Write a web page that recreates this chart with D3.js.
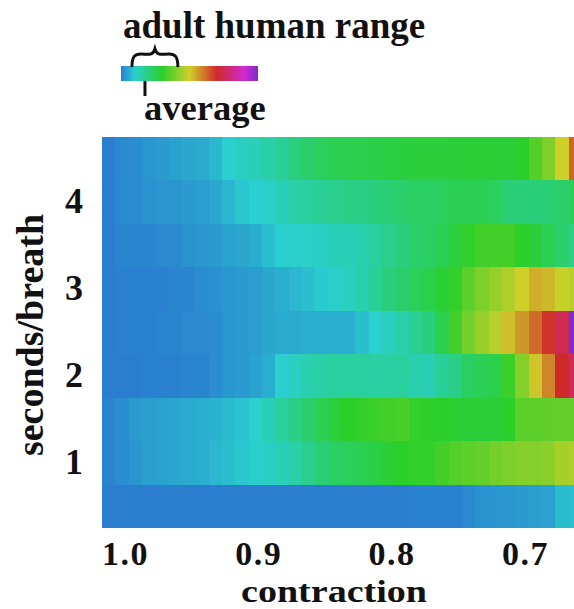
<!DOCTYPE html>
<html>
<head>
<meta charset="utf-8">
<script src="https://cdn.jsdelivr.net/npm/d3@7"></script>
<style>
  html, body { margin: 0; padding: 0; background: #fff; }
  svg { display: block; }
  text { font-family: "Liberation Serif", serif; font-weight: bold; fill: #111; }
</style>
</head>
<body>
<div id="chart"></div>
<script>
// contraction along x, seconds/breath along y
const contraction = [1.00, 0.99, 0.98, 0.97, 0.96, 0.95, 0.94, 0.93, 0.92, 0.91, 0.90, 0.89,
  0.88, 0.87, 0.86, 0.85, 0.84, 0.83, 0.82, 0.81, 0.80, 0.79, 0.78, 0.77,
  0.76, 0.75, 0.74, 0.73, 0.72, 0.71, 0.70, 0.69, 0.68, 0.67, 0.66, 0.65];
const secondsPerBreath = [4.5, 4, 3.5, 3, 2.5, 2, 1.5, 1, 0.5];

const xTickLabels = [1.0, 0.9, 0.8, 0.7];
const yTickLabels = [4, 3, 2, 1];

// colour index, 0 = blue end of the legend, 100 = purple end
const row45 = [0, 1.5, 2, 3, 3.5, 4.5, 5, 5.5, 7, 10, 12, 13, 15, 17, 20, 22, 24, 25, 25.5, 26, 26.5, 27, 27.5, 28, 28, 28, 28.5, 28.5, 28.5, 28.5, 28.5, 30, 35, 40, 50, 63];
const row40 = [0, 1.5, 2, 2.5, 3, 3, 3.5, 4, 5, 7, 9, 10, 11, 13, 15, 16, 17, 18, 19, 19, 20, 21, 22, 23, 23, 24, 25, 25, 25, 24, 21, 20.5, 20.5, 21, 22, 25];
const row35 = [0, 1, 1, 1, 1.5, 1.5, 2.5, 3, 3.5, 4.5, 5, 6, 8, 10, 10.5, 11, 11.5, 13, 13, 14, 16, 18, 20, 22, 23, 25, 28, 31, 33, 33, 33, 30, 28, 25, 22, 19];
const row30 = [0, 0.5, 0.5, 0.5, 0.5, 1, 1, 2, 2.5, 3, 3.5, 4, 5, 6, 7, 8, 9.5, 10.5, 12, 14, 17, 20, 22, 24, 26, 29, 31, 36, 40, 43, 46, 50, 54, 53, 49, 47];
const row25 = [0, 0.5, 0.5, 0.5, 1, 1, 1.5, 1.5, 2, 3, 3.5, 4, 5, 5.5, 5.5, 6, 6, 6, 6, 8, 10, 12, 14, 17, 20, 26, 33, 39, 43, 47, 52, 57, 62, 69, 75, 100];
const row20 = [0, 0, 0, 0.5, 0.5, 0.5, 1, 1, 2, 3, 3.5, 4.5, 6, 10, 12, 14, 15, 16, 16, 16, 15.5, 15.5, 16, 14, 13.5, 17, 19, 23, 25, 26, 32, 41, 51, 59, 70, 77];
const row15 = [1, 2, 3.5, 4, 4.5, 5, 5.5, 6, 6.5, 7.5, 8.5, 10, 13, 16, 19, 22, 25, 28, 30, 31, 32, 33, 33.5, 31, 30.5, 30, 29, 28.5, 28.5, 28.5, 30, 36, 36, 36.5, 37, 37];
const row10 = [1, 2, 3, 4, 4.5, 5, 5.5, 6, 7, 8, 9, 10.5, 11.5, 13, 15, 18, 21, 23, 24, 25, 27, 29, 30, 31, 31, 33, 35, 36, 37, 39, 40, 41, 41, 42, 45, 46];
const row05 = [0, 0, 0, 0, 0, 0, 0, 0, 0, 0, 0, 0, 0, 0, 0, 0, 0, 0, 0, 0, 0, 0, 0, 0.5, 0.5, 0.5, 0.5, 1.5, 2.5, 3, 3, 3.5, 4, 4.5, 7.5, 8];
const rows = [row45, row40, row35, row30, row25, row20, row15, row10, row05];

// legend
const legendStops = [0, 10, 30, 50, 70, 90, 100];
const adultRange = [8, 41.5];
const averageValue = 17.5;

const width = 574, height = 609;
const bandW = 13.33;

const svg = d3.select("#chart").append("svg")
  .attr("width", width)
  .attr("height", height);

const x = d3.scaleBand()
  .domain(contraction)
  .range([102, 102 + bandW * contraction.length]);

const y = d3.scaleBand()
  .domain(secondsPerBreath)
  .range([137, 528]);

// hue runs from 210 (blue) down through green, red and magenta to purple
const hue = d3.scaleLinear().domain([0, 100]).range([210, -90]);
const color = v => d3.hsl(hue(v), 0.66, 0.49).formatHex();

// heatmap
const cells = rows.flatMap((row, i) =>
  row.map((v, j) => ({ s: secondsPerBreath[i], c: contraction[j], v: v })));

svg.append("g")
  .style("filter", "blur(0.5px)")
  .selectAll("rect")
  .data(cells)
  .join("rect")
  .attr("x", d => x(d.c))
  .attr("y", d => y(d.s))
  .attr("width", x.bandwidth())
  .attr("height", y.bandwidth())
  .attr("shape-rendering", "crispEdges")
  .attr("fill", d => color(d.v));

// bottom axis, labels start at the left edge of their column
const xAxis = svg.append("g")
  .attr("transform", "translate(0,528)")
  .call(d3.axisBottom(x).tickValues(xTickLabels).tickSize(0).tickFormat(d3.format(".1f")));
xAxis.select(".domain").remove();
xAxis.selectAll("text")
  .attr("x", -x.bandwidth() / 2)
  .attr("y", 13)
  .attr("text-anchor", "start")
  .style("font-size", "34px")
  .style("letter-spacing", "1.5px")
  .style("font-family", "Liberation Serif");

// left axis
const yAxis = svg.append("g")
  .attr("transform", "translate(102,0)")
  .call(d3.axisLeft(y).tickValues(yTickLabels).tickSize(0));
yAxis.select(".domain").remove();
yAxis.selectAll("text")
  .attr("x", -19)
  .attr("dy", "0.3em")
  .style("font-size", "36px")
  .style("font-family", "Liberation Serif");

// stretched to the reference width, the box has to stay clear of the ticks and the page edge
svg.append("text")
  .attr("x", 241)
  .attr("y", 601.8)
  .attr("textLength", 186)
  .attr("lengthAdjust", "spacingAndGlyphs")
  .style("font-size", "32.5px")
  .text("contraction");

svg.append("text")
  .attr("transform", "translate(43,335) rotate(-90)")
  .attr("text-anchor", "middle")
  .style("font-size", "38px")
  .text("seconds/breath");

// colour legend
const legendX = d3.scaleLinear().domain([0, 100]).range([121, 258]);

const gradient = svg.append("defs").append("linearGradient")
  .attr("id", "legendGradient");
gradient.selectAll("stop")
  .data(legendStops)
  .join("stop")
  .attr("offset", d => d + "%")
  .attr("stop-color", d => color(d));

svg.append("rect")
  .attr("x", legendX(0))
  .attr("y", 66)
  .attr("width", legendX(100) - legendX(0))
  .attr("height", 15)
  .attr("fill", "url(#legendGradient)");

// brace over the adult range
const bx0 = legendX(adultRange[0]), bx1 = legendX(adultRange[1]), bm = (bx0 + bx1) / 2;
svg.append("path")
  .attr("d", `M${bx0},67 C${bx0},56 ${bx0 + 3},54 ${bx0 + 9},54 C${bm - 7},54 ${bm - 2},56 ${bm},49
    C${bm + 2},56 ${bm + 7},54 ${bx1 - 9},54 C${bx1 - 3},54 ${bx1},56 ${bx1},67`)
  .attr("fill", "none")
  .attr("stroke", "#111")
  .attr("stroke-width", 3);

svg.append("line")
  .attr("x1", legendX(averageValue))
  .attr("x2", legendX(averageValue))
  .attr("y1", 81)
  .attr("y2", 96)
  .attr("stroke", "#111")
  .attr("stroke-width", 3);

svg.append("text")
  .attr("x", 123)
  .attr("y", 38)
  .style("font-size", "37px")
  .text("adult human range");

svg.append("text")
  .attr("x", 144)
  .attr("y", 120)
  .style("font-size", "36.5px")
  .text("average");
</script>
</body>
</html>
